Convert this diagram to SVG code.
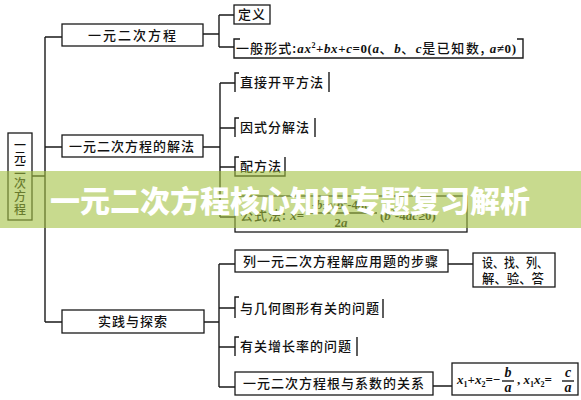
<svg xmlns="http://www.w3.org/2000/svg" width="581" height="400" viewBox="0 0 581 400">
<style>
.bx{fill:#fff;stroke:#1a1a1a;stroke-width:1.3}
.ln{fill:none;stroke:#1a1a1a;stroke-width:1.4}
.t{font-family:"Noto Sans CJK SC",sans-serif;font-size:13px;font-weight:500;fill:#111;letter-spacing:1px}
.m{font-family:"Liberation Serif",serif;font-style:italic;font-weight:bold;fill:#111;font-size:13px}
.n{font-family:"Liberation Serif",serif;font-weight:bold;fill:#111;font-size:13px}
.s{font-family:"Liberation Serif",serif;font-weight:bold;fill:#111;font-size:8px}
.banner-t{font-family:"Noto Sans CJK SC",sans-serif;font-size:30px;font-weight:900;fill:#fff}
</style>
<rect width="581" height="400" fill="#fff"/>
<g id="connectors">
<path class="ln" d="M32,176H45M45,37V322M45,37H62M45,147H62M45,322H62"/>
<path class="ln" d="M203,34H219M219,15V47M219,15H234M219,47H234"/>
<path class="ln" d="M203,147H220M220,83V217M220,83H235M220,128H235M220,167H235M220,217H235"/>
<path class="ln" d="M204,322H219M219,264V387M219,264H235M219,308H235M219,347H235M219,387H235"/>
<path class="ln" d="M448,264H473M433,386H452"/>
</g>
<g id="root">
<rect class="bx" x="8" y="133" width="24" height="87"/>
<text class="t" style="letter-spacing:0;font-size:12px" x="20" text-anchor="middle"><tspan x="20" y="150">一</tspan><tspan x="20" y="162">元</tspan><tspan x="20" y="174">二</tspan><tspan x="20" y="188">次</tspan><tspan x="20" y="201">方</tspan><tspan x="20" y="214">程</tspan></text>
</g>
<g id="n1">
<rect class="bx" x="62" y="24" width="141" height="22"/>
<text class="t" x="133" y="40" text-anchor="middle" style="letter-spacing:2px">一元二次方程</text>
</g>
<g id="n1a">
<rect class="bx" x="234" y="5" width="36" height="19"/>
<text class="t" x="252" y="19" text-anchor="middle">定义</text>
</g>
<g id="n1b">
<path class="ln" d="M240,39H234V58H523V39H517"/>
<text x="236" y="53" textLength="280" lengthAdjust="spacing"><tspan class="t" style="letter-spacing:0.5px">一般形式:</tspan><tspan class="m">ax</tspan><tspan class="s" dy="-5">2</tspan><tspan class="n" dy="5">+</tspan><tspan class="m">bx</tspan><tspan class="n">+</tspan><tspan class="m">c</tspan><tspan class="n">=0(</tspan><tspan class="m">a</tspan><tspan class="t">、</tspan><tspan class="m">b</tspan><tspan class="t">、</tspan><tspan class="m">c</tspan><tspan class="t">是已知数,</tspan><tspan class="m"> a</tspan><tspan class="n">≠0)</tspan></text>
</g>
<g id="n2">
<rect class="bx" x="62" y="135" width="141" height="22"/>
<text class="t" x="132" y="151" text-anchor="middle">一元二次方程的解法</text>
</g>
<g id="n2a">
<path class="ln" d="M239,73H235V92M329,72V92"/>
<text class="t" x="240" y="87">直接开平方法</text>
</g>
<g id="n2b">
<path class="ln" d="M239,118H235V137M315,118V137"/>
<text class="t" x="240" y="132">因式分解法</text>
</g>
<g id="n2c">
<path class="ln" d="M239,157H235V176H285V157"/>
<text class="t" x="240" y="171">配方法</text>
</g>
<g id="n2d">
<rect class="bx" x="235" y="196" width="232" height="36"/>
<text x="240" y="220"><tspan class="t">公式法:</tspan><tspan class="m"> x</tspan><tspan class="n">=</tspan></text>
<text x="341" y="209" text-anchor="middle"><tspan class="n">-</tspan><tspan class="m">b</tspan><tspan class="n">±√</tspan><tspan class="m">b</tspan><tspan class="s" dy="-5">2</tspan><tspan class="n" dy="5">-4</tspan><tspan class="m">ac</tspan></text>
<path class="ln" d="M306,213H377" stroke-width="1"/>
<text x="341" y="227" text-anchor="middle"><tspan class="n">2</tspan><tspan class="m">a</tspan></text>
<text x="380" y="220"><tspan class="n">(</tspan><tspan class="m">b</tspan><tspan class="s" dy="-5">2</tspan><tspan class="n" dy="5">-4</tspan><tspan class="m">ac</tspan><tspan class="n">≥0)</tspan></text>
</g>
<g id="n3">
<rect class="bx" x="62" y="310" width="142" height="23"/>
<text class="t" x="133" y="326" text-anchor="middle">实践与探索</text>
</g>
<g id="n3a">
<rect class="bx" x="235" y="250" width="213" height="22"/>
<text class="t" x="243" y="266">列一元二次方程解应用题的步骤</text>
</g>
<g id="n3a1">
<rect class="bx" x="473" y="253" width="82" height="34"/>
<text class="t" style="letter-spacing:0" x="482" y="267" textLength="66" lengthAdjust="spacingAndGlyphs">设、找、列、</text>
<text class="t" style="letter-spacing:0" x="482" y="283" textLength="62" lengthAdjust="spacingAndGlyphs">解、验、答</text>
</g>
<g id="n3b">
<path class="ln" d="M239,297H235V318M383,299V318"/>
<text class="t" x="240" y="313">与几何图形有关的问题</text>
</g>
<g id="n3c">
<path class="ln" d="M239,337H235V356M357,337V356"/>
<text class="t" x="240" y="351">有关增长率的问题</text>
</g>
<g id="n3d">
<rect class="bx" x="235" y="372" width="198" height="23"/>
<text class="t" x="243" y="388">一元二次方程根与系数的关系</text>
</g>
<g id="n3d1">
<rect class="bx" x="452" y="363" width="126" height="32"/>
<text x="457" y="384"><tspan class="m">x</tspan><tspan class="s" dy="3">1</tspan><tspan class="n" dy="-3">+</tspan><tspan class="m">x</tspan><tspan class="s" dy="3">2</tspan><tspan class="n" dy="-3">=−</tspan></text>
<text class="m" x="508" y="377" text-anchor="middle" style="font-size:14px">b</text>
<path class="ln" d="M502,381H514" stroke-width="1"/>
<text class="m" x="508" y="392" text-anchor="middle" style="font-size:14px">a</text>
<text x="517" y="384"><tspan class="n">,</tspan><tspan class="m"> x</tspan><tspan class="s" dy="3">1</tspan><tspan class="m" dy="-3">x</tspan><tspan class="s" dy="3">2</tspan><tspan class="n" dy="-3">=</tspan></text>
<text class="m" x="568" y="377" text-anchor="middle" style="font-size:14px">c</text>
<path class="ln" d="M562,381H574" stroke-width="1"/>
<text class="m" x="568" y="392" text-anchor="middle" style="font-size:14px">a</text>
</g>
<g id="banner">
<rect x="0" y="171" width="581" height="57" fill="rgb(163,193,67)" opacity="0.6"/>
<text class="banner-t" x="290" y="212" text-anchor="middle">一元二次方程核心知识专题复习解析</text>
</g>
</svg>
